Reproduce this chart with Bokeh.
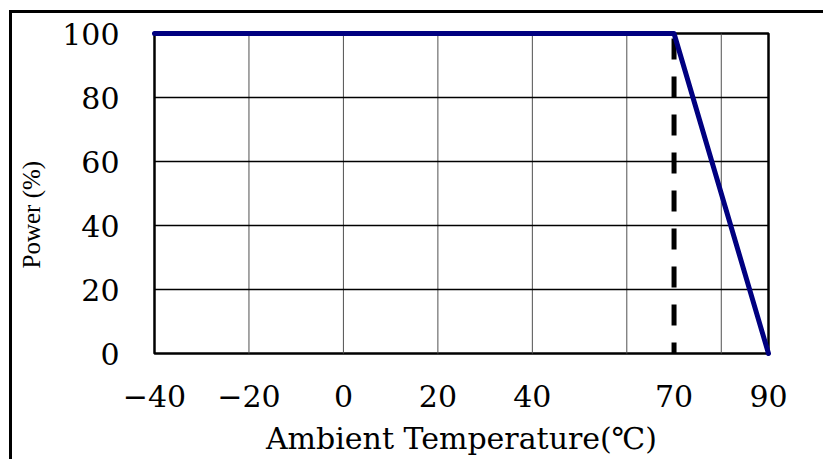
import math
from bokeh.plotting import figure
from bokeh.models import Range1d, FixedTicker, BoxAnnotation, Title
from bokeh.embed import file_html
from bokeh.resources import INLINE

# ---- data ----
temperature = [-40, 70, 90]
power = [100, 100, 0]
derating_temp = 70
x_ticks = [-40, -20, 0, 20, 40, 70, 90]
x_tick_labels = ["−40", "−20", "0", "20", "40", "70", "90"]
y_ticks = [0, 20, 40, 60, 80, 100]
y_tick_labels = ["0", "20", "40", "60", "80", "100"]
x_grid_ticks = [-20, 0, 20, 40, 60, 80]
y_grid_ticks = [20, 40, 60, 80]
x_title = "Ambient Temperature(℃)"
y_title = "Power (%)"

# ---- layout ----
W, H = 823, 459
left, top = 150, 29
fw, fh = 621, 328
pad_x, pad_y = 3, 4
xmin, xmax = -40, 90
ymin, ymax = 0, 100
xu = (xmax - xmin) / (fw - 2 * pad_x)
yu = (ymax - ymin) / (fh - 2 * pad_y)

p = figure(width=W, height=H, output_backend="svg", toolbar_location=None,
           x_range=Range1d(xmin - pad_x * xu, xmax + pad_x * xu),
           y_range=Range1d(ymin - pad_y * yu, ymax + pad_y * yu),
           min_border_left=left, min_border_top=top,
           min_border_right=W - left - fw, min_border_bottom=H - top - fh)
# outer frame lines (top and left) drawn behind a transparent border area
p.styles = {"background": "linear-gradient(#000, #000) 9px 10px / 3px calc(100% - 10px) no-repeat, "
                          "linear-gradient(#000, #000) 9px 10px / calc(100% - 9px) 3px no-repeat"}
p.outline_line_color = None
p.background_fill_color = "white"
p.border_fill_color = None
p.xgrid.visible = False
p.ygrid.visible = False

for ax in (p.xaxis, p.yaxis):
    ax.axis_line_color = None
    ax.major_tick_line_color = None
    ax.minor_tick_line_color = None
    ax.major_tick_out = 0
    ax.major_tick_in = 0
    ax.minor_tick_out = 0
    ax.major_label_text_font = "DejaVu Serif"
    ax.major_label_text_font_size = "30px"
    ax.major_label_text_color = "black"

p.xaxis.ticker = FixedTicker(ticks=x_ticks)
p.xaxis.major_label_overrides = dict(zip(x_ticks, x_tick_labels))
p.xaxis.major_label_standoff = 27
p.xaxis.axis_label = x_title
p.xaxis.axis_label_text_font = "DejaVu Serif"
p.xaxis.axis_label_text_font_size = "30px"
p.xaxis.axis_label_text_font_style = "normal"
p.xaxis.axis_label_text_color = "black"
p.xaxis.axis_label_standoff = 11

p.yaxis.ticker = FixedTicker(ticks=y_ticks)
p.yaxis.major_label_overrides = dict(zip(y_ticks, y_tick_labels))
p.yaxis.major_label_standoff = 32

p.add_layout(Title(text=y_title, align="left", offset=89, standoff=30,
                   text_font="Liberation Serif", text_font_size="25px",
                   text_font_style="normal", text_color="black"), "left")

# grid lines
p.segment(x0=x_grid_ticks, y0=[ymin] * len(x_grid_ticks), x1=x_grid_ticks,
          y1=[ymax] * len(x_grid_ticks), line_color="#505050", line_width=1)
p.segment(x0=[xmin] * len(y_grid_ticks), y0=y_grid_ticks, x1=[xmax] * len(y_grid_ticks),
          y1=y_grid_ticks, line_color="black", line_width=1.5)

# plot box
p.add_layout(BoxAnnotation(left=xmin, right=xmax, bottom=ymin, top=ymax,
                           fill_color=None, fill_alpha=0, line_color="black",
                           line_alpha=1, line_width=2.5, level="underlay"))

# derating dashed line
p.line([derating_temp, derating_temp], [max(power), min(power)], line_color="black",
       line_width=5, line_dash="21 17", line_dash_offset=33)

# derating curve
p.line(temperature, power, line_color="#000080", line_width=5,
       line_cap="round", line_join="round")

open("out.html", "w").write(file_html(p, INLINE))
